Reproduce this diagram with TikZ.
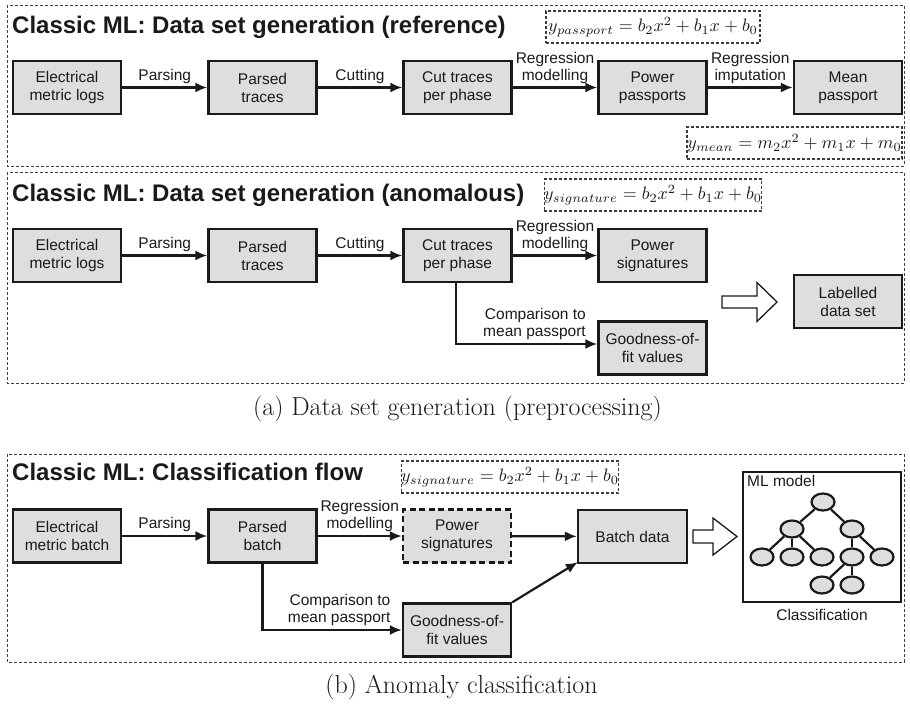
\documentclass[tikz,border=0pt]{standalone}
\usepackage{fontspec}
\newfontfamily\hv{Liberation Sans}
\usetikzlibrary{arrows.meta,shapes.geometric}
\definecolor{boxgray}{HTML}{DEDEDE}
\definecolor{ink}{HTML}{1A1A1A}
\newcommand{\bigeq}[1]{\scalebox{1.8}{$#1$}}

\begin{document}
\begin{tikzpicture}[x=1pt,y=-1pt,
  every node/.style={text=ink},
  box/.style={draw=ink, line width=2.3pt, fill=boxgray, minimum width=108pt,
    minimum height=53pt, inner sep=0pt, align=center,
    font=\hv\fontsize{15.5}{18}\selectfont},
  dbox/.style={box, dash pattern=on 6pt off 3.5pt},
  panel/.style={draw=ink!85, line width=1pt, dash pattern=on 3pt off 2pt},
  formula/.style={draw=ink!85, line width=1.1pt, dash pattern=on 3pt off 2pt,
    minimum width=214pt, minimum height=32pt, inner sep=0pt},
  title/.style={anchor=base west, inner sep=0pt, font=\hv\bfseries\fontsize{24}{28}\selectfont},
  lbl/.style={font=\hv\fontsize{15.5}{18}\selectfont, align=center, inner sep=2pt},
  flow/.style={draw=ink, line width=2.2pt, -{Latex[length=12pt,width=10pt]}},
  hollow/.style={draw=ink, line width=1.3pt, fill=white, line join=miter},
  leaf/.style={draw=ink, ellipse, line width=2.2pt, fill=boxgray, minimum width=23pt,
    minimum height=17pt, inner sep=0pt},
  caption/.style={font=\fontsize{26}{30}\selectfont}
]
\useasboundingbox (0,0) rectangle (910,704);

% ---------- (a) reference data set ----------
\draw[panel] (7,5) rectangle (904,166);
\node[title] (t1) at (12,33) {Classic ML: Data set generation (reference)};
\node[formula] (f1) at (653,27) {\bigeq{y_{passport} = b_2x^2 + b_1x + b_0}};
\node[formula, minimum width=215pt] (f2) at (794.5,143) {\bigeq{y_{mean} = m_2x^2 + m_1x + m_0}};

\node[box] (a1) at (67,87.5) {Electrical\\metric logs};
\node[box] (a2) at (262.5,87.5) {Parsed\\traces};
\node[box] (a3) at (457.5,87.5) {Cut traces\\per phase};
\node[box] (a4) at (652.5,87.5) {Power\\passports};
\node[box] (a5) at (848,87.5) {Mean\\passport};

\draw[flow] (a1) -- node[lbl, above=1pt] {Parsing} (a2);
\draw[flow] (a2) -- node[lbl, above=1pt] {Cutting} (a3);
\draw[flow] (a3) -- node[lbl, above=1pt] {Regression\\[-1pt]modelling} (a4);
\draw[flow] (a4) -- node[lbl, above=1pt] {Regression\\[-1pt]imputation} (a5);

% ---------- (a) anomalous data set ----------
\draw[panel] (7,172) rectangle (904,383);
\node[title] (t2) at (12,201) {Classic ML: Data set generation (anomalous)};
\node[formula] (f3) at (653,195) {\bigeq{y_{signature} = b_2x^2 + b_1x + b_0}};

\node[box] (b1) at (67,255.5) {Electrical\\metric logs};
\node[box] (b2) at (262.5,255.5) {Parsed\\traces};
\node[box] (b3) at (457.5,255.5) {Cut traces\\per phase};
\node[box] (b4) at (652.5,255.5) {Power\\signatures};
\node[box] (b5) at (652.5,348) {Goodness-of-\\fit values};
\node[box] (b6) at (848,301.5) {Labelled\\data set};

\draw[flow] (b1) -- node[lbl, above=1pt] {Parsing} (b2);
\draw[flow] (b2) -- node[lbl, above=1pt] {Cutting} (b3);
\draw[flow] (b3) -- node[lbl, above=1pt] {Regression\\[-1pt]modelling} (b4);
\draw[flow] ([xshift=-1.5pt]b3.south) |- ([yshift=4pt]b5.west)
  node[lbl, align=right, anchor=south east, pos=0.97, yshift=1pt] {Comparison to\\[-1pt]mean passport};

\draw[hollow] (722,296) -- (757,296) -- (757,282.5) -- (777,302) -- (757,321.5)
  -- (757,308) -- (722,308) -- cycle;

\node[caption] (capa) at (457.5,409) {(a) Data set generation (preprocessing)};

% ---------- (b) classification ----------
\draw[panel] (7,454) rectangle (904,662);
\node[title] (t3) at (12,480) {Classic ML: Classification flow};
\node[formula] (f4) at (510,477) {\bigeq{y_{signature} = b_2x^2 + b_1x + b_0}};

\node[box] (c1) at (67,536) {Electrical\\metric batch};
\node[box] (c2) at (262.5,536) {Parsed\\batch};
\node[dbox] (c3) at (457,536) {Power\\signatures};
\node[box] (c4) at (457,630) {Goodness-of-\\fit values};
\node[box, minimum width=109pt] (c5) at (632.5,536.5) {Batch data};

\draw[flow] (c1) -- node[lbl, above=1pt] {Parsing} (c2);
\draw[flow] (c2) -- node[lbl, above=1pt] {Regression\\[-1pt]modelling} (c3);
\draw[flow] (c2.south) |- (c4.west)
  node[lbl, align=right, anchor=south east, pos=0.97, yshift=1pt] {Comparison to\\[-1pt]mean passport};
\draw[flow] (c3) -- (c5);
\draw[flow] (c4.north east) -- ([xshift=1pt,yshift=2pt]c5.south west);

\draw[hollow] (693,530) -- (713,530) -- (713,518) -- (737,536.5) -- (713,555)
  -- (713,543) -- (693,543) -- cycle;

% classifier model
\node[draw=ink, line width=2.2pt, minimum width=158pt, minimum height=130pt, inner sep=0pt]
  (ml) at (822,537) {};
\node[lbl, anchor=north west, inner sep=0pt] (mlt) at (747,475) {ML model};
\node[lbl] (cls) at (822,615) {Classification};

\node[leaf] (r)  at (823,502) {};
\node[leaf] (l)  at (792,529) {};
\node[leaf] (rr) at (852,529) {};
\node[leaf] (l1) at (762,557) {};
\node[leaf] (l2) at (792,557) {};
\node[leaf] (l3) at (822,557) {};
\node[leaf] (r1) at (852,557) {};
\node[leaf] (r2) at (882,557) {};
\node[leaf] (s1) at (822,585) {};
\node[leaf] (s2) at (852,585) {};
\begin{scope}[line width=2.2pt, draw=ink]
  \draw (r) -- (l);  \draw (r) -- (rr);
  \draw (l) -- (l1); \draw (l) -- (l2); \draw (l) -- (l3);
  \draw (rr) -- (r1); \draw (rr) -- (r2);
  \draw (r1) -- (s1); \draw (r1) -- (s2);
\end{scope}

\node[caption] (capb) at (461.5,687) {(b) Anomaly classification};
\end{tikzpicture}
\end{document}
